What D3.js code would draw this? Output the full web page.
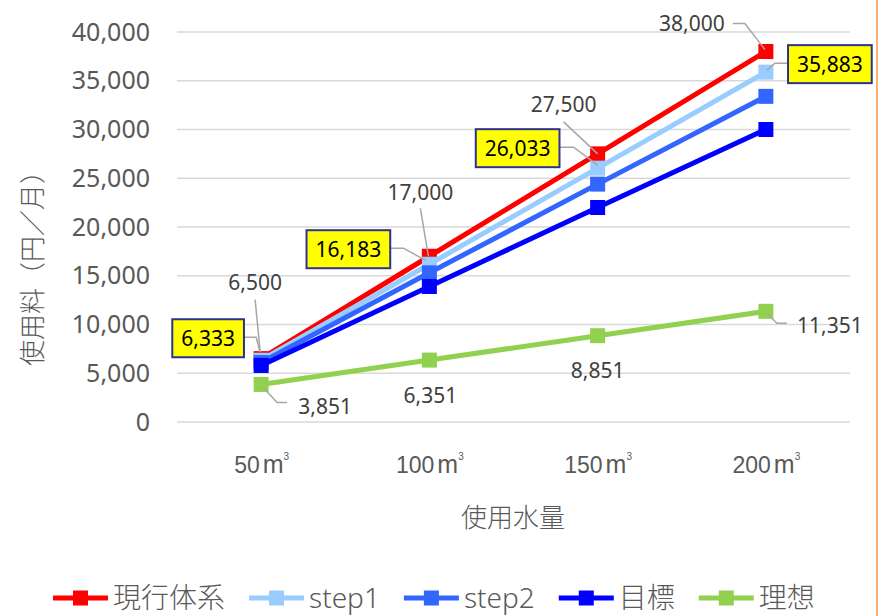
<!DOCTYPE html>
<html>
<head>
<meta charset="utf-8">
<script src="https://cdn.jsdelivr.net/npm/d3@7"></script>
<style>
  body { margin: 0; background: #fff; }
  svg { display: block; font-family: "Noto Sans", "Noto Sans CJK JP", sans-serif; }
</style>
</head>
<body>
<svg id="chart" width="880" height="616"></svg>
<script>
const categories = ['50', '100', '150', '200'];
const seriesNames = ['現行体系', 'step1', 'step2', '目標', '理想'];
const genkou = [6500, 17000, 27500, 38000];
const step1 = [6333, 16183, 26033, 35883];
const step2 = [6100, 15300, 24400, 33400];
const mokuhyou = [5800, 13900, 22000, 30000];
const risou = [3851, 6351, 8851, 11351];
const yTicks = [0, 5000, 10000, 15000, 20000, 25000, 30000, 35000, 40000];
const colors = ['#ff0000', '#99ccff', '#3366ff', '#0000ff', '#92d050'];

const series = [genkou, step1, step2, mokuhyou, risou];

// label placement, offsets from the point: [series, index, dx, dy, boxed, leader]
const labelSpots = [
  [0, 0, -6, -76, false, [[-6, -59], [-1, -7]]],
  [0, 1, -9, -64, false, [[-9, -48], [-1, 0]]],
  [0, 2, -34, -49, false, [[-34, -32], [0, 0]]],
  [0, 3, -74, -28, false, [[-33, -28], [-21, -28], [-1, -2]]],
  [1, 0, -53, -22, true, [[-17, -23], [-5, -23], [-1, -8]]],
  [1, 1, -81, -15, true, [[-39, -16], [-26, -16], [-4, -4]]],
  [1, 2, -80, -20, true, [[-38, -21], [-24, -21], [0, -3]]],
  [1, 3, 64, -8, true, [[22, -9], [9, -9], [1, -2]]],
  [4, 0, 64, 22, false, [[2, 3], [16, 18], [26, 18]]],
  [4, 1, 1, 35, false, null],
  [4, 2, 0, 35, false, null],
  [4, 3, 64, 14, false, [[1, 2], [11, 12], [21, 12]]]
];

const svg = d3.select('#chart');

const x = d3.scalePoint().domain(categories).range([177, 850]).padding(0.5);
const y = d3.scaleLinear().domain([0, 40000]).range([422, 32]);
const fmt = d3.format(',');

// grid
svg.append('g')
  .selectAll('line')
  .data(yTicks)
  .join('line')
  .attr('x1', 177).attr('x2', 850)
  .attr('y1', d => y(d)).attr('y2', d => y(d))
  .attr('stroke', '#d9d9d9').attr('stroke-width', 1.5);

// y axis labels
const yAxis = svg.append('g')
  .attr('transform', 'translate(150,0)')
  .call(d3.axisLeft(y).tickValues(yTicks).tickFormat(fmt).tickSize(0).tickPadding(0));
yAxis.select('.domain').remove();
yAxis.selectAll('text')
  .attr('font-size', 25).attr('fill', '#595959')
  .attr('font-family', '"Noto Sans", sans-serif');

// x axis labels
const xAxis = svg.append('g')
  .attr('transform', 'translate(0,465)')
  .call(d3.axisBottom(x).tickSize(0).tickPadding(0).tickFormat(''));
xAxis.select('.domain').remove();
xAxis.selectAll('.tick').append('text')
  .attr('fill', '#595959').attr('font-size', 23)
  .attr('text-anchor', 'middle').attr('dy', '0.36em')
  .each(function(d) {
    const t = d3.select(this);
    t.append('tspan').text(d);
    t.append('tspan').attr('dx', 3).attr('font-size', 25).text('m');
    t.append('tspan').attr('font-size', 10).attr('dy', -13).text('3');
  });

// axis titles
svg.append('text')
  .attr('x', 513).attr('y', 518).attr('dy', '0.35em')
  .attr('text-anchor', 'middle')
  .attr('font-size', 26).attr('fill', '#595959')
  .attr('font-family', '"Noto Sans CJK JP", sans-serif')
  .attr('font-weight', 300)
  .text('使用水量');

svg.append('text')
  .attr('transform', 'translate(33,262) rotate(-90)')
  .attr('dy', '0.35em')
  .attr('text-anchor', 'middle')
  .attr('font-size', 26).attr('fill', '#595959')
  .attr('font-family', '"Noto Sans CJK JP", sans-serif')
  .attr('font-weight', 300)
  .text('使用料（円／月）');

// lines and markers
const line = d3.line().x((d, i) => x(categories[i])).y(d => y(d));

series.forEach((values, s) => {
  const g = svg.append('g');
  g.append('path')
    .datum(values)
    .attr('d', line)
    .attr('fill', 'none')
    .attr('stroke', colors[s])
    .attr('stroke-width', 5)
    .attr('stroke-linejoin', 'round');
  g.selectAll('rect')
    .data(values)
    .join('rect')
    .attr('x', (d, i) => x(categories[i]) - 7.5)
    .attr('y', d => y(d) - 7.5)
    .attr('width', 15).attr('height', 15)
    .attr('fill', colors[s]);
});

// data labels
const labels = svg.append('g');
labelSpots.forEach(([s, i, dx, dy, boxed, leader]) => {
  const px = x(categories[i]);
  const py = y(series[s][i]);
  if (leader) {
    const pts = leader.map(p => [px + p[0], py + p[1]]);
    labels.append('path')
      .attr('d', d3.line()(pts))
      .attr('fill', 'none')
      .attr('stroke', '#a6a6a6').attr('stroke-width', 1.5);
  }
  const t = labels.append('text')
    .attr('x', px + dx).attr('y', py + dy).attr('dy', '0.36em')
    .attr('text-anchor', 'middle')
    .attr('font-size', 21)
    .attr('fill', boxed ? '#000' : '#404040')
    .text(fmt(series[s][i]));
  if (boxed) {
    const w = t.node().getComputedTextLength() + 18;
    labels.insert('rect', function() { return t.node(); })
      .attr('x', px + dx - w / 2).attr('y', py + dy - 19)
      .attr('width', w).attr('height', 38)
      .attr('fill', '#ffff00')
      .attr('stroke', '#2e3192').attr('stroke-width', 2);
  }
});

// legend
const legend = svg.append('g').attr('transform', 'translate(0,598)');
let lx = 53;
seriesNames.forEach((name, s) => {
  const item = legend.append('g').attr('transform', 'translate(' + lx + ',0)');
  item.append('line')
    .attr('x1', 0).attr('x2', 55)
    .attr('stroke', colors[s]).attr('stroke-width', 5);
  item.append('rect')
    .attr('x', 20).attr('y', -7.5).attr('width', 15).attr('height', 15)
    .attr('fill', colors[s]);
  const t = item.append('text')
    .attr('x', 60).attr('dy', '0.35em')
    .attr('font-size', 28).attr('fill', '#595959')
    .attr('font-weight', 300)
    .text(name);
  lx += 60 + t.node().getComputedTextLength() + 24;
});

// right border of the chart area
svg.append('line')
  .attr('x1', 877).attr('x2', 877).attr('y1', 0).attr('y2', 616)
  .attr('stroke', '#f79646').attr('stroke-width', 1.5);
</script>
</body>
</html>
